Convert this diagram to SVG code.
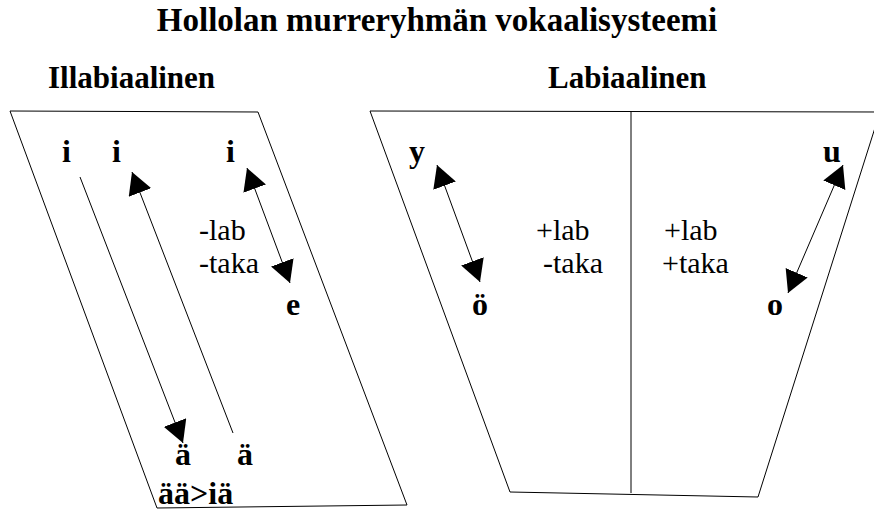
<svg xmlns="http://www.w3.org/2000/svg" width="874" height="509" viewBox="0 0 874 509">
  <style>
    text { font-family: "Liberation Serif", "Times New Roman", "DejaVu Serif", serif; fill: #000; }
    .title { font-size: 33px; font-weight: 700; }
    .head { font-size: 31px; font-weight: 700; }
    .v { font-size: 32px; font-weight: 700; }
    .f { font-family: "Times New Roman", "Liberation Serif", "DejaVu Serif", serif; font-size: 30px; font-weight: 400; font-style: normal; }
    .frame { fill: none; stroke: #000; stroke-width: 1; }
    .conn { fill: none; stroke: #000; stroke-width: 1; }
  </style>
  <defs>
    <marker id="tri" viewBox="0 0 22 24" refX="22" refY="12" markerWidth="22" markerHeight="24" markerUnits="userSpaceOnUse" orient="auto-start-reverse">
      <path d="M0,0 L22,12 L0,24 z" fill="#000"/>
    </marker>
  </defs>
  <rect width="874" height="509" fill="#fff"/>

  <text class="title" x="437" y="31" text-anchor="middle">Hollolan murreryhmän vokaalisysteemi</text>

  <!-- unrounded vowel area -->
  <g id="illabiaalinen">
    <text class="head" x="48" y="88">Illabiaalinen</text>
    <polygon class="frame" points="10,111 258,112 407,505 157,508"/>
    <text class="v" x="62" y="162">i</text>
    <text class="v" x="112" y="162">i</text>
    <text class="v" x="226" y="162">i</text>
    <text class="f" x="199" y="240">-lab</text>
    <text class="f" x="199" y="273">-taka</text>
    <text class="v" x="286" y="315">e</text>
    <text class="v" x="175" y="465">ä</text>
    <text class="v" x="237" y="465">ä</text>
    <text class="v" x="158" y="504">ää&gt;iä</text>
  </g>

  <!-- rounded vowel area -->
  <g id="labiaalinen">
    <text class="head" x="548" y="88">Labiaalinen</text>
    <polygon class="frame" points="370,111 880,112 758,497 510,492"/>
    <line class="frame" x1="631" y1="112" x2="631" y2="493"/>
    <text class="v" x="409" y="162">y</text>
    <text class="v" x="823" y="162">u</text>
    <text class="f" x="536" y="240">+lab</text>
    <text class="f" x="543" y="273">-taka</text>
    <text class="f" x="664" y="240">+lab</text>
    <text class="f" x="662" y="273">+taka</text>
    <text class="v" x="472" y="315">ö</text>
    <text class="v" x="767" y="315">o</text>
  </g>

  <g id="connectors">
    <line class="conn" x1="80" y1="177" x2="183" y2="443" marker-end="url(#tri)"/>
    <line class="conn" x1="233" y1="433" x2="132" y2="172" marker-end="url(#tri)"/>
    <line class="conn" x1="247" y1="168" x2="290" y2="283" marker-start="url(#tri)" marker-end="url(#tri)"/>
    <line class="conn" x1="437" y1="165" x2="480" y2="282" marker-start="url(#tri)" marker-end="url(#tri)"/>
    <line class="conn" x1="843" y1="165" x2="788" y2="293" marker-start="url(#tri)" marker-end="url(#tri)"/>
  </g>
</svg>
